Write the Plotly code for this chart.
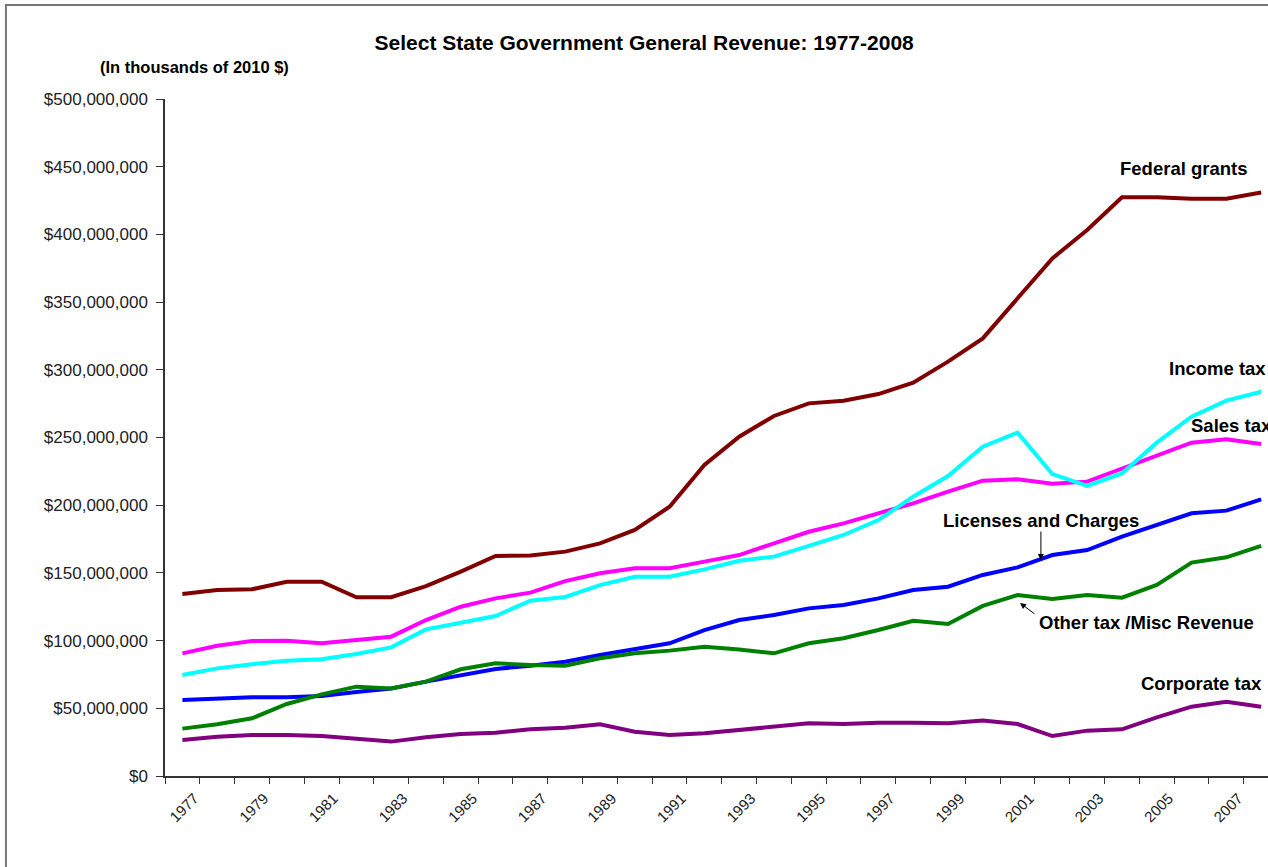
import plotly.graph_objects as go

# State government general revenue, thousands of 2010 dollars (values in millions of those units)
years = list(range(1977, 2009))

federal_grants = [134.4, 137.4, 137.9, 143.5, 143.5, 132.0, 132.0, 140.3, 150.9, 162.5, 162.9, 165.7,
                  171.8, 181.7, 198.9, 229.7, 250.6, 265.9, 275.2, 277.2, 282.1, 290.5, 306.0,
                  323.2, 352.8, 382.3, 403.3, 427.4, 427.4, 426.4, 426.4, 431.0]
sales_tax = [90.6, 96.2, 99.7, 99.9, 98.0, 100.4, 102.9, 115.2, 125.0, 131.2, 135.4, 143.9,
             149.7, 153.4, 153.4, 158.3, 163.2, 171.8, 180.4, 186.6, 194.0, 201.4, 210.0,
             218.1, 219.1, 215.8, 217.4, 227.2, 236.3, 246.2, 248.7, 245.2]
income_tax = [74.6, 79.5, 82.5, 85.2, 86.2, 90.1, 95.0, 108.3, 113.2, 118.2, 129.5, 132.2,
              141.0, 147.2, 147.2, 152.6, 159.0, 162.0, 169.9, 178.0, 189.0, 206.3, 221.5,
              243.2, 253.6, 223.0, 214.2, 223.5, 246.2, 265.4, 277.2, 283.8]
licenses_charges = [56.1, 57.4, 58.1, 58.1, 59.1, 62.0, 64.7, 69.7, 74.6, 79.0, 81.5, 84.4,
                    89.4, 93.5, 98.0, 107.8, 115.2, 118.9, 123.8, 126.3, 131.2, 137.4, 139.8,
                    148.5, 154.1, 163.2, 166.9, 176.8, 185.4, 194.0, 196.0, 204.3]
other_misc = [35.0, 38.2, 42.6, 53.2, 60.3, 66.0, 64.7, 69.7, 78.8, 83.2, 82.0, 81.5,
              86.9, 90.6, 92.6, 95.5, 93.5, 90.6, 98.0, 101.7, 107.8, 114.7, 112.3,
              125.6, 133.7, 130.7, 133.7, 131.7, 141.1, 157.6, 161.5, 169.9]
corporate_tax = [26.6, 29.0, 30.3, 30.3, 29.5, 27.8, 25.4, 28.6, 31.0, 32.0, 34.5, 35.6,
                 38.2, 32.7, 30.3, 31.5, 34.0, 36.0, 38.9, 38.4, 39.4, 39.4, 38.9,
                 40.9, 38.4, 29.5, 33.5, 34.5, 43.3, 51.2, 54.9, 51.2]

MILLION = 1e6
year_labels = [str(y) for y in years if y % 2 == 1]
y_ticks = [v * MILLION for v in range(0, 501, 50)]

FONT = "Arial, 'Liberation Sans', sans-serif"

series = [
    ("Federal grants", federal_grants, "#800000"),
    ("Sales tax", sales_tax, "#FF00FF"),
    ("Income tax", income_tax, "#00FFFF"),
    ("Licenses and Charges", licenses_charges, "#0000FF"),
    ("Other tax /Misc Revenue", other_misc, "#008000"),
    ("Corporate tax", corporate_tax, "#800080"),
]

fig = go.Figure()
for name, vals, color in series:
    fig.add_trace(go.Scatter(
        x=years, y=[v * MILLION for v in vals], name=name, mode="lines",
        line=dict(color=color, width=4), cliponaxis=True,
    ))

label_font = dict(family=FONT, size=18.5, color="black")


def label(text, x, y, xanchor="left"):
    fig.add_annotation(x=x, y=y * MILLION, text=f"<b>{text}</b>", showarrow=False,
                       xanchor=xanchor, yanchor="middle", font=label_font)


label("Federal grants", 2005.78, 449, xanchor="center")
label("Income tax", 2005.29, 301)
label("Sales tax", 2005.93, 258.5)
label("Licenses and Charges", 1998.8, 189)
label("Other tax /Misc Revenue", 2001.56, 113.7)
label("Corporate tax", 2004.49, 68)

# pointer arrows for the two labels that sit away from their lines
fig.add_annotation(x=2001.67, y=159.5 * MILLION, ax=0, ay=-30, text="", showarrow=True,
                   arrowhead=2, arrowsize=1.2, arrowwidth=1, arrowcolor="black")
fig.add_annotation(x=2001.07, y=127.8 * MILLION, ax=16, ay=12, text="", showarrow=True,
                   arrowhead=2, arrowsize=1.2, arrowwidth=1, arrowcolor="black")

fig.add_annotation(xref="paper", yref="paper", x=-0.0603, y=1.047,
                   text="<b>(In thousands of 2010 $)</b>", showarrow=False,
                   xanchor="left", yanchor="middle",
                   font=dict(family=FONT, size=16.5, color="black"))

# outer chart frame
fig.add_shape(type="rect", xref="paper", yref="paper",
              x0=-0.1442, x1=1.2, y0=-0.3, y1=1.1389,
              line=dict(color="#777777", width=2), fillcolor="rgba(0,0,0,0)", layer="below")

fig.update_layout(
    width=1268, height=867,
    margin=dict(l=165, r=0, t=99, b=91),
    paper_bgcolor="white", plot_bgcolor="white",
    showlegend=False,
    font=dict(family=FONT, color="black"),
    title=dict(text="<b>Select State Government General Revenue: 1977-2008</b>",
               x=0.508, xanchor="center", y=1 - 43 / 867, yanchor="middle",
               font=dict(family=FONT, size=21, color="black")),
)

fig.update_xaxes(
    range=[1976.5, 2008.196],
    tickmode="array", tickvals=[y for y in years if y % 2 == 1], ticktext=year_labels,
    ticks="", tickangle=-45, ticklabelshift=12, ticklabelstandoff=6,
    tickfont=dict(family=FONT, size=15, color="#222"),
    showline=True, linecolor="#333", linewidth=1.5,
    showgrid=False, zeroline=False,
    minor=dict(tickmode="linear", tick0=1976.5, dtick=1, ticks="outside",
               ticklen=6, tickcolor="#333", tickwidth=1.2, showgrid=False),
)
fig.update_yaxes(
    range=[0, 500 * MILLION],
    tickmode="array", tickvals=y_ticks, tickformat="$,.0f",
    ticks="outside", ticklen=7, tickcolor="#333", tickwidth=1.2,
    ticklabelstandoff=5,
    tickfont=dict(family=FONT, size=17, color="#222"),
    showline=True, linecolor="#333", linewidth=1.5,
    showgrid=False, zeroline=False,
)

fig.write_html("out.html")
